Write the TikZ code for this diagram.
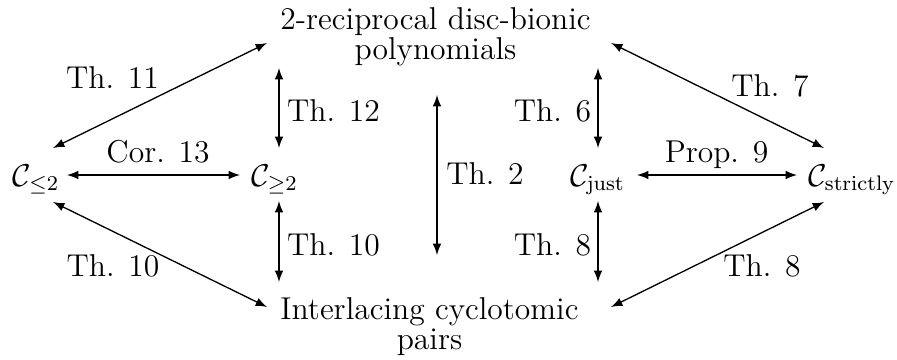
\documentclass[tikz,border=0pt]{standalone}
\usepackage{amsmath}
\begin{document}
\begin{tikzpicture}[x=0.380pt,y=-0.380pt,
  font=\fontsize{12}{11.4}\selectfont,
  lbl/.style={inner sep=0pt,anchor=base},
  big/.style={inner sep=0pt,align=center,font=\fontsize{12}{11.4}\selectfont},
  arr/.style={<->,>=latex,line width=0.5pt}]
\useasboundingbox (0,0) rectangle (897,360);
% main nodes
\node[big] (top) at (435.5,37.1) {2-reciprocal disc-bionic\\polynomials};
\node[big] (bot) at (429.5,327.1) {Interlacing cyclotomic\\pairs};
\node[lbl] (le) at (36,186) {$\mathcal{C}_{\le 2}$};
\node[lbl] (ge) at (274.5,186) {$\mathcal{C}_{\ge 2}$};
\node[lbl] (just) at (597.5,186) {$\mathcal{C}_{\mathrm{just}}$};
\node[lbl] (str) at (852,186) {$\mathcal{C}_{\mathrm{strictly}}$};
% labels
\node[lbl] (l11) at (112.5,89) {Th. 11};
\node[lbl] (l13) at (158,162) {Cor. 13};
\node[lbl] (l10a) at (113,276) {Th. 10};
\node[lbl] (l12) at (333.5,122) {Th. 12};
\node[lbl] (l10b) at (333.5,255) {Th. 10};
\node[lbl] (l2) at (485,185) {Th. 2};
\node[lbl] (l6) at (552.5,122) {Th. 6};
\node[lbl] (l8a) at (552.5,255) {Th. 8};
\node[lbl] (l9) at (716.5,162) {Prop. 9};
\node[lbl] (l7) at (770,97) {Th. 7};
\node[lbl] (l8b) at (762,276) {Th. 8};
% arrows
\draw[arr] ([shift={(-168.5,5.9)}]top.center) -- ([shift={(17,-38)}]le.base);
\draw[arr] ([shift={(175.5,5.9)}]top.center) -- ([shift={(-28,-38)}]str.base);
\draw[arr] ([shift={(17,16)}]le.base) -- ([shift={(-162.5,-20.1)}]bot.center);
\draw[arr] ([shift={(-28,16)}]str.base) -- ([shift={(181.5,-20.1)}]bot.center);
\draw[arr] ([shift={(31,-11)}]le.base) -- ([shift={(-34.5,-11)}]ge.base);
\draw[arr] ([shift={(39.5,-11)}]just.base) -- ([shift={(-55,-11)}]str.base);
\draw[arr] ([shift={(-156.5,30.9)}]top.center) -- ([shift={(4.5,-38)}]ge.base);
\draw[arr] ([shift={(4.5,15)}]ge.base) -- ([shift={(-150.5,-45.1)}]bot.center);
\draw[arr] ([shift={(1.5,57.9)}]top.center) -- ([shift={(7.5,-72.1)}]bot.center);
\draw[arr] ([shift={(162.5,30.9)}]top.center) -- ([shift={(0.5,-38)}]just.base);
\draw[arr] ([shift={(0.5,15)}]just.base) -- ([shift={(168.5,-45.1)}]bot.center);
\end{tikzpicture}
\end{document}
